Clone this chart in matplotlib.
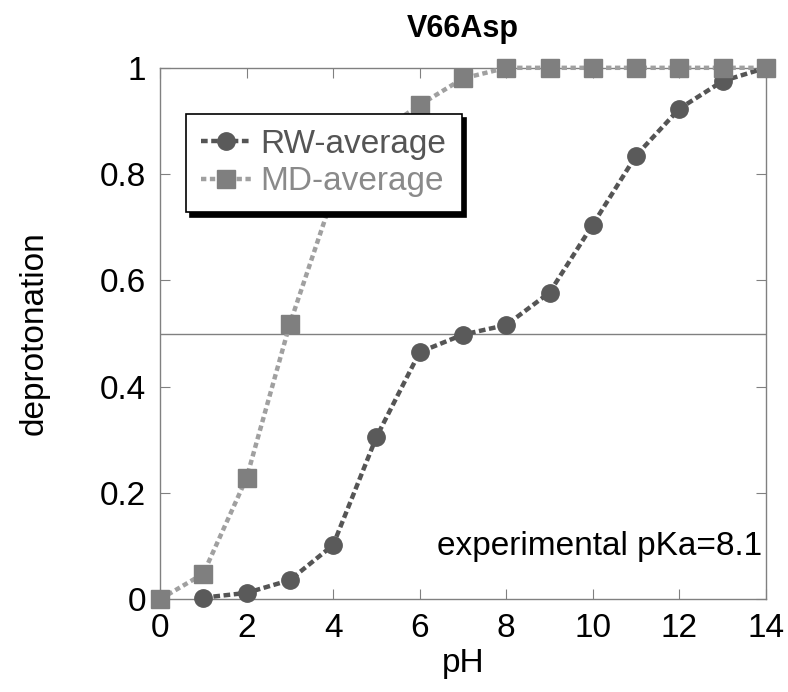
import matplotlib
matplotlib.use('Agg')
import matplotlib.pyplot as plt

plt.rcParams['font.family'] = ['Liberation Sans', 'DejaVu Sans']

# RW-average (pH 1..14)
rw_ph = [1, 2, 3, 4, 5, 6, 7, 8, 9, 10, 11, 12, 13, 14]
rw_dep = [0.003, 0.012, 0.036, 0.102, 0.305, 0.465, 0.498, 0.516, 0.577,
          0.705, 0.835, 0.923, 0.975, 1.0]

# MD-average (pH 0..14)
md_ph = [0, 1, 2, 3, 4, 5, 6, 7, 8, 9, 10, 11, 12, 13, 14]
md_dep = [0.0, 0.048, 0.228, 0.518, 0.76, 0.875, 0.93, 0.98, 1.0, 1.0,
          1.0, 1.0, 1.0, 1.0, 1.0]

x_ticks = [0, 2, 4, 6, 8, 10, 12, 14]
y_ticks = [0, 0.2, 0.4, 0.6, 0.8, 1]
y_labels = ['0', '0.2', '0.4', '0.6', '0.8', '1']

fig = plt.figure(figsize=(7.88, 6.92), dpi=100)
ax = fig.add_axes([0.203, 0.134, 0.769, 0.768])

ax.axhline(0.5, color='#808080', linewidth=1.0, zorder=1)

ax.plot(rw_ph, rw_dep, linestyle=(0, (1.5, 0.8)), color='#555555', linewidth=3.2,
        marker='o', markersize=12.5, markerfacecolor='#5a5a5a', markeredgecolor='#5a5a5a',
        label='RW-average', zorder=3, clip_on=False)
ax.plot(md_ph, md_dep, linestyle=(0, (1.2, 0.8)), color='#a0a0a0', linewidth=3.2,
        marker='s', markersize=13, markerfacecolor='#7f7f7f', markeredgecolor='#7f7f7f',
        label='MD-average', zorder=4, clip_on=False)

ax.set_xlim(0, 14)
ax.set_ylim(0, 1)
ax.set_xticks(x_ticks)
ax.set_yticks(y_ticks)
ax.set_yticklabels(y_labels)
ax.tick_params(direction='in', length=7, width=0.8, color='#808080',
               top=True, right=True, labelsize=24, pad=10)
for s in ax.spines.values():
    s.set_color('#808080')
    s.set_linewidth(1.0)

ax.set_xlabel('pH', fontsize=24, labelpad=3)
ax.set_ylabel('deprotonation', fontsize=24, labelpad=36)
ax.set_title('V66Asp', fontsize=22, fontweight='bold', pad=22)

ax.text(13.92, 0.1, 'experimental pKa=8.1', fontsize=24, ha='right', va='center')

leg = ax.legend(loc='upper left', bbox_to_anchor=(0.015, 0.945),
                fontsize=24, frameon=True, fancybox=False, edgecolor='black',
                framealpha=1, shadow={'color': 'black', 'alpha': 1, 'ox': 3, 'oy': -3},
                handlelength=1.5, handletextpad=0.3, borderpad=0.45, labelspacing=0.2)
leg.get_frame().set_linewidth(1.2)
leg.set_zorder(10)
leg.texts[0].set_color('#555555')
leg.texts[1].set_color('#8a8a8a')

fig.savefig('out.png', dpi=100)
